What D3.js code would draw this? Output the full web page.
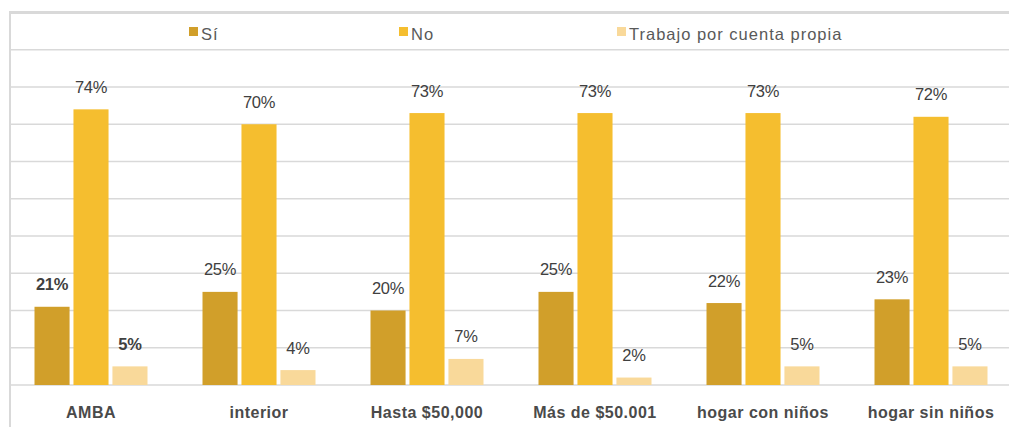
<!DOCTYPE html>
<html><head><meta charset="utf-8">
<script src="https://cdn.jsdelivr.net/npm/d3@7"></script>
<style>body{margin:0;background:#fff}svg{display:block;font-family:"Liberation Sans",Arial,sans-serif}</style>
</head><body>
<svg id="c" width="1009" height="427"></svg>
<script>
const categories = ["AMBA","interior","Hasta $50,000","Más de $50.001","hogar con niños","hogar sin niños"];
const seriesNames = ["Sí","No","Trabajo por cuenta propia"];
const si = [0.21,0.25,0.20,0.25,0.22,0.23];
const no = [0.74,0.70,0.73,0.73,0.73,0.72];
const propia = [0.05,0.04,0.07,0.02,0.05,0.05];
const boldLabels = [[true,false,true],[false,false,false],[false,false,false],[false,false,false],[false,false,false],[false,false,false]];
const yTicks = [0,0.1,0.2,0.3,0.4,0.5,0.6,0.7,0.8,0.9,1.0];
const colors = ["#D19F2A","#F5BE2F","#F9D99A"];
const seriesValues = [si,no,propia];

const svg = d3.select("#c");
const x0 = d3.scaleBand().domain(categories).range([7,1015]);
const x1 = d3.scaleBand().domain(seriesNames).range([0,113]).paddingInner(0.1);
const y = d3.scaleLinear().domain([0,1]).range([385,12.5]);

// gridlines
svg.append("g").selectAll("line").data(yTicks.slice(1,-1)).join("line")
  .attr("x1",10).attr("x2",1009).attr("y1",d=>y(d)).attr("y2",d=>y(d))
  .attr("stroke","#d9d9d9").attr("stroke-width",1.5);
// top border
svg.append("line").attr("x1",9).attr("x2",1009).attr("y1",y(1)).attr("y2",y(1))
  .attr("stroke","#d9d9d9").attr("stroke-width",3);
// left border
svg.append("line").attr("x1",10).attr("x2",10).attr("y1",y(1)-1.5).attr("y2",427)
  .attr("stroke","#d9d9d9").attr("stroke-width",2);
// baseline
svg.append("line").attr("x1",10).attr("x2",1009).attr("y1",y(0)).attr("y2",y(0))
  .attr("stroke","#d9d9d9").attr("stroke-width",1.5);

const groups = svg.append("g").selectAll("g").data(categories).join("g")
  .attr("transform",d=>`translate(${x0(d)+(x0.bandwidth()-113)/2},0)`);
groups.each(function(cat,ci){
  const g = d3.select(this);
  seriesNames.forEach((s,si_)=>{
    const v = seriesValues[si_][ci];
    g.append("rect").attr("x",x1(s)).attr("width",x1.bandwidth())
      .attr("y",y(v)).attr("height",y(0)-y(v)).attr("fill",colors[si_]);
    g.append("text").attr("x",x1(s)+x1.bandwidth()/2).attr("y",y(v)-16.5)
      .attr("text-anchor","middle").attr("font-size","16.5px")
      .attr("font-weight",boldLabels[ci][si_]?"bold":"normal")
      .attr("fill","#404040").attr("letter-spacing","-0.3px")
      .text(Math.round(v*100)+"%");
  });
});

// category axis labels
svg.append("g").selectAll("text").data(categories).join("text")
  .attr("x",d=>x0(d)+x0.bandwidth()/2).attr("y",418)
  .attr("text-anchor","middle").attr("font-size","16px").attr("font-weight","bold")
  .attr("letter-spacing","0.5px").attr("fill","#4a4a4a").text(d=>d);

// legend
const legendX = [189,399,617];
const lg = svg.append("g").selectAll("g").data(seriesNames).join("g")
  .attr("transform",(d,i)=>`translate(${legendX[i]},0)`);
lg.append("rect").attr("x",0).attr("y",27).attr("width",9).attr("height",9).attr("fill",(d,i)=>colors[i]);
lg.append("text").attr("x",12).attr("y",39.5).attr("font-size","16.5px")
  .attr("letter-spacing","1px").attr("fill","#595959").text(d=>d);
</script>
</body></html>
